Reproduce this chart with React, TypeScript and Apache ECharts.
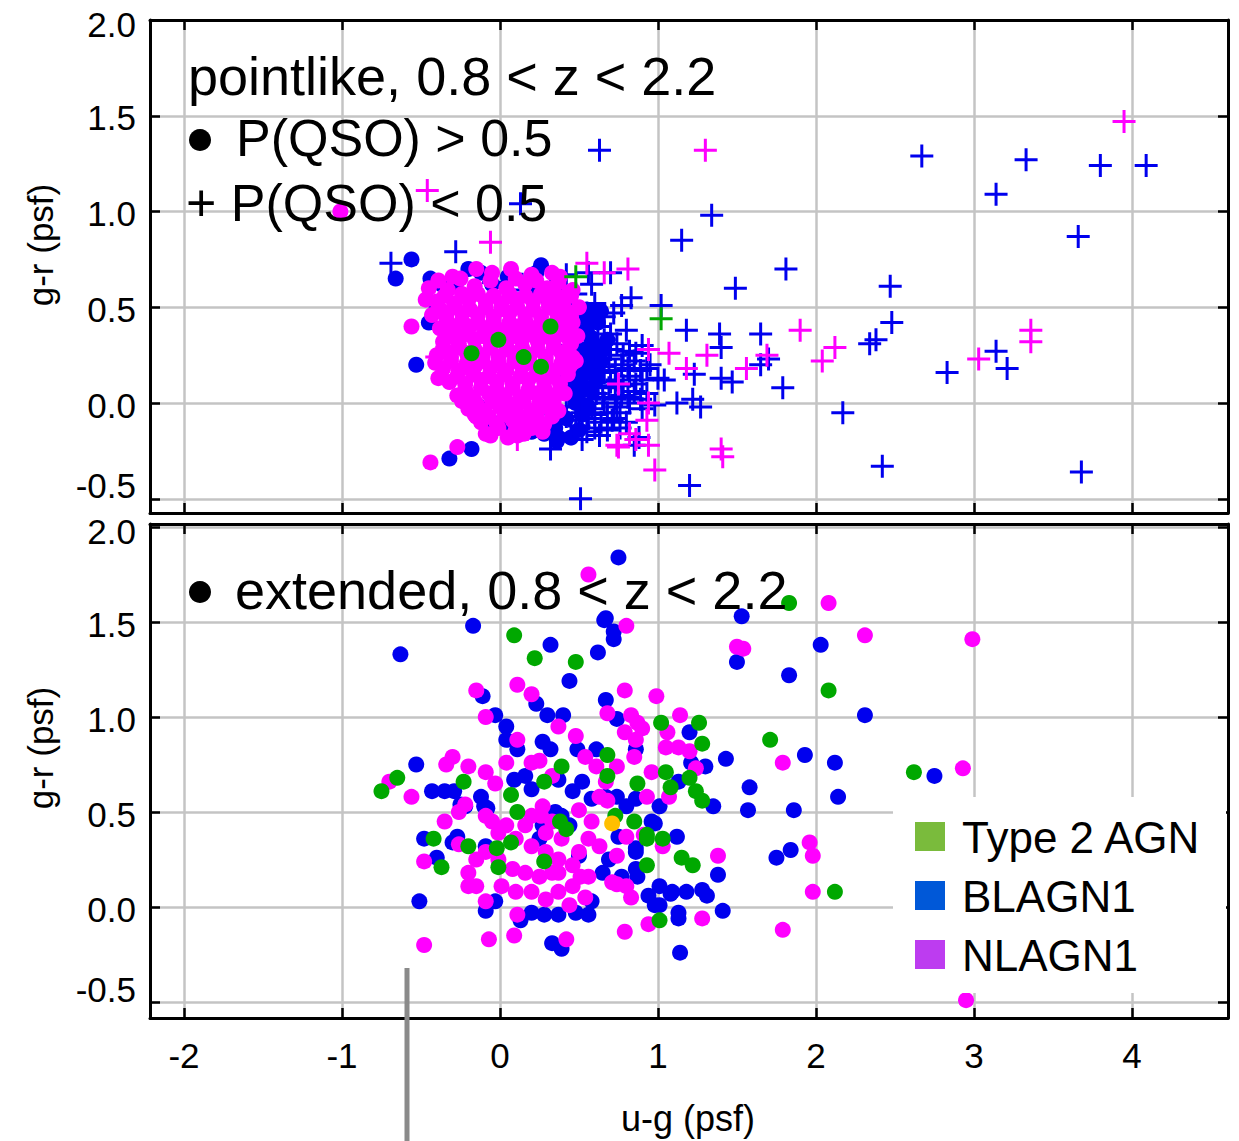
import React, { useEffect, useRef } from 'react';
import * as echarts from 'echarts';

// ---------- axis ranges / labels ----------
const xRange = [-2.215, 4.608];
const yRangeTop = [-0.574, 2.0];
const yRangeBottom = [-0.584, 2.016];
const xAxisTitle = 'u-g (psf)';
const yAxisTitle = 'g-r (psf)';
const topTitle = 'pointlike, 0.8 < z < 2.2';
const topLine2 = 'P(QSO) > 0.5';
const topLine3 = '+ P(QSO) < 0.5';
const bottomTitle = 'extended, 0.8 < z < 2.2';
const legendNames = ['Type 2 AGN', 'BLAGN1', 'NLAGN1'];

// ---------- TOP PANEL (pointlike) ----------
const topBlueCircles = [
  [-0.66, 0.65], [-0.56, 0.75], [-0.44, 0.65], [-0.37, 0.62], [-0.28, 0.62], [-0.2, 0.7], [0.26, 0.72], [0.23, 0.68],
  [0.58, 0.48], [0.64, 0.48], [-0.53, 0.2], [-0.18, -0.24], [-0.32, -0.29], [-0.18, 0.01], [-0.13, -0.02], [-0.45, 0.42],
  [0.4, 0.45], [0.47, 0.4], [0.55, 0.38], [0.62, 0.42], [0.45, 0.32], [0.52, 0.28], [0.6, 0.3], [0.68, 0.33],
  [0.48, 0.2], [0.56, 0.18], [0.64, 0.22], [0.45, 0.1], [0.53, 0.08], [0.61, 0.12], [0.48, 0.0], [0.56, -0.02],
  [0.42, -0.08], [0.5, -0.14], [0.35, -0.13], [0.28, -0.16], [0.2, -0.15], [0.12, -0.13], [0.05, -0.12], [-0.05, -0.1],
  [-0.15, -0.02], [0.36, -0.2], [0.3, 0.55], [0.2, 0.6], [0.05, 0.66], [-0.05, 0.62], [-0.12, 0.68], [0.36, 0.63],
  [0.44, 0.55], [-0.4, 0.5], [-0.35, 0.4], [-0.02, -0.12], [0.11, -0.15], [0.33, -0.05], [0.37, -0.18],
  [0.5, 0.36], [0.58, 0.34], [0.5, 0.24], [0.58, 0.25], [0.52, 0.14], [0.6, 0.16], [0.5, 0.05], [0.58, 0.06],
  [0.52, -0.06], [0.45, -0.18], [0.55, 0.45], [0.66, 0.28]
];
const topMagentaCircles = [
  [-0.45, 0.6], [-0.33, 0.59], [-0.16, 0.61], [0.04, 0.6], [0.16, 0.62], [0.3, 0.6], [0.44, 0.58],
  [-0.4, 0.53], [-0.29, 0.52], [-0.2, 0.54], [-0.09, 0.53], [0.01, 0.52], [0.1, 0.54], [0.21, 0.53], [0.31, 0.52], [0.4, 0.53],
  [-0.43, 0.46], [-0.34, 0.45], [-0.24, 0.47], [-0.14, 0.46], [-0.04, 0.45], [0.06, 0.47], [0.16, 0.46], [0.26, 0.45], [0.36, 0.47], [0.45, 0.45],
  [-0.38, 0.39], [-0.29, 0.38], [-0.19, 0.4], [-0.09, 0.39], [0.01, 0.38], [0.11, 0.4], [0.21, 0.39], [0.31, 0.38], [0.41, 0.39],
  [-0.36, 0.32], [-0.26, 0.31], [-0.16, 0.33], [-0.06, 0.32], [0.04, 0.31], [0.14, 0.33], [0.24, 0.32], [0.34, 0.31], [0.44, 0.33],
  [-0.4, 0.25], [-0.31, 0.24], [-0.21, 0.26], [-0.11, 0.25], [-0.01, 0.24], [0.09, 0.26], [0.19, 0.25], [0.29, 0.24], [0.39, 0.26], [0.46, 0.24],
  [-0.36, 0.18], [-0.26, 0.17], [-0.16, 0.19], [-0.06, 0.18], [0.04, 0.17], [0.14, 0.19], [0.24, 0.18], [0.34, 0.17], [0.44, 0.19],
  [-0.32, 0.11], [-0.22, 0.1], [-0.12, 0.12], [-0.02, 0.11], [0.08, 0.1], [0.18, 0.12], [0.28, 0.11], [0.38, 0.1],
  [-0.27, 0.04], [-0.17, 0.03], [-0.07, 0.05], [0.03, 0.04], [0.13, 0.03], [0.23, 0.05], [0.33, 0.04], [0.41, 0.05],
  [-0.2, -0.03], [-0.1, -0.04], [0.0, -0.02], [0.1, -0.03], [0.2, -0.04], [0.3, -0.02], [0.37, -0.04],
  [-0.12, -0.1], [-0.02, -0.11], [0.08, -0.09], [0.18, -0.1], [0.28, -0.11],
  [-0.06, -0.17], [0.05, -0.18], [0.15, -0.16],
  [-0.39, 0.64], [-0.25, 0.65], [-0.06, 0.64], [0.1, 0.65], [0.23, 0.64], [0.37, 0.63],
  [-0.35, 0.56], [-0.24, 0.57], [-0.14, 0.57], [-0.04, 0.56], [0.06, 0.57], [0.16, 0.56], [0.26, 0.57], [0.36, 0.56], [0.45, 0.56],
  [-0.38, 0.49], [-0.29, 0.5], [-0.19, 0.49], [-0.09, 0.5], [0.01, 0.49], [0.11, 0.5], [0.21, 0.49], [0.31, 0.5], [0.41, 0.49], [0.5, 0.5],
  [-0.33, 0.42], [-0.24, 0.43], [-0.14, 0.42], [-0.04, 0.43], [0.06, 0.42], [0.16, 0.43], [0.26, 0.42], [0.36, 0.43], [0.46, 0.42],
  [-0.31, 0.35], [-0.21, 0.36], [-0.11, 0.35], [-0.01, 0.36], [0.09, 0.35], [0.19, 0.36], [0.29, 0.35], [0.39, 0.36], [0.49, 0.35],
  [-0.35, 0.28], [-0.26, 0.29], [-0.16, 0.28], [-0.06, 0.29], [0.04, 0.28], [0.14, 0.29], [0.24, 0.28], [0.34, 0.29], [0.43, 0.28],
  [-0.41, 0.21], [-0.31, 0.22], [-0.21, 0.21], [-0.11, 0.22], [-0.01, 0.21], [0.09, 0.22], [0.19, 0.21], [0.29, 0.22], [0.39, 0.21], [0.48, 0.22],
  [-0.27, 0.14], [-0.17, 0.15], [-0.07, 0.14], [0.03, 0.15], [0.13, 0.14], [0.23, 0.15], [0.33, 0.14], [0.43, 0.15],
  [-0.22, 0.07], [-0.12, 0.08], [-0.02, 0.07], [0.08, 0.08], [0.18, 0.07], [0.28, 0.08], [0.38, 0.07],
  [-0.24, 0.01], [-0.15, 0.0], [-0.05, 0.01], [0.05, 0.0], [0.15, 0.01], [0.25, 0.0], [0.34, 0.01],
  [-0.16, -0.06], [-0.07, -0.07], [0.03, -0.06], [0.13, -0.07], [0.23, -0.06], [0.33, -0.07],
  [-0.01, -0.13], [0.1, -0.14], [0.2, -0.13], [0.27, -0.15],
  [-0.3, 0.66], [-0.05, 0.68], [0.2, 0.67], [0.38, 0.66],
  [-0.44, -0.31], [-0.27, -0.23], [-0.56, 0.4], [-0.39, 0.13], [-0.47, 0.54], [-0.15, 0.7], [0.07, 0.7], [0.33, 0.68],
  [0.46, 0.59], [0.45, 0.31], [0.46, 0.21], [0.29, 0.02], [0.22, -0.12], [0.11, -0.17], [-0.09, -0.16], [-0.15, -0.07],
  [-1.01, 1.0]
];
const topGreenCircles = [[-0.18, 0.26], [-0.01, 0.33], [0.15, 0.24], [0.26, 0.19], [0.32, 0.4]];
const topBlueCrosses = [
  [0.63, 1.32], [2.67, 1.29], [3.33, 1.27], [3.8, 1.24], [4.09, 1.24], [3.14, 1.09], [1.34, 0.98], [1.15, 0.85],
  [3.66, 0.87], [1.81, 0.7], [1.49, 0.6], [2.47, 0.61], [2.48, 0.42], [2.38, 0.33], [2.34, 0.31], [1.65, 0.36],
  [1.39, 0.36], [1.18, 0.38], [1.02, 0.51], [1.7, 0.23], [1.65, 0.2], [1.79, 0.08], [2.17, -0.05], [2.83, 0.16],
  [3.14, 0.27], [3.21, 0.18], [2.42, -0.33], [3.68, -0.36], [1.2, -0.43], [0.51, -0.5], [0.32, -0.24], [-0.69, 0.73],
  [-0.28, 0.79], [0.13, 1.04], [1.4, 0.29], [1.23, 0.15], [1.4, 0.13], [1.47, 0.11], [1.22, 0.02], [1.12, 0.0],
  [1.27, -0.02], [1.04, 0.12], [0.93, 0.18], [0.8, 0.38], [0.77, 0.51], [0.83, 0.55], [0.72, 0.47], [0.58, 0.62],
  [0.7, 0.68], [0.56, 0.68], [0.42, 0.67], [0.88, -0.18],
  [0.42, 0.3], [0.5, 0.33], [0.58, 0.3], [0.66, 0.33], [0.74, 0.31], [0.82, 0.27], [0.9, 0.3],
  [0.45, 0.22], [0.53, 0.24], [0.61, 0.21], [0.69, 0.23], [0.77, 0.2], [0.85, 0.22], [0.95, 0.2],
  [0.42, 0.14], [0.5, 0.15], [0.58, 0.13], [0.66, 0.16], [0.74, 0.12], [0.82, 0.14], [0.9, 0.12], [1.0, 0.13],
  [0.45, 0.06], [0.53, 0.07], [0.61, 0.05], [0.69, 0.08], [0.77, 0.04], [0.85, 0.06], [0.93, 0.05],
  [0.42, -0.02], [0.5, -0.01], [0.58, -0.03], [0.66, 0.0], [0.74, -0.02], [0.82, 0.0], [0.9, -0.03], [0.98, -0.01],
  [0.48, -0.09], [0.56, -0.08], [0.64, -0.1], [0.72, -0.08], [0.8, -0.1],
  [0.45, -0.16], [0.55, -0.15], [0.63, -0.17], [0.85, -0.22],
  [0.38, 0.6], [0.35, 0.55], [0.48, 0.57], [0.6, 0.52], [0.66, 0.45], [0.55, 0.47], [0.62, 0.4], [0.7, 0.36], [0.5, 0.42],
  [-0.04, 0.63], [0.14, 0.62], [0.16, 0.59], [0.42, -0.07], [0.5, -0.12], [0.71, -0.09],
  [0.46, 0.27], [0.54, 0.28], [0.62, 0.26], [0.7, 0.28], [0.78, 0.25], [0.86, 0.26], [0.49, 0.18], [0.57, 0.17],
  [0.65, 0.19], [0.73, 0.17], [0.81, 0.18], [0.89, 0.17], [0.46, 0.1], [0.54, 0.11], [0.62, 0.09], [0.7, 0.11],
  [0.78, 0.09], [0.86, 0.1], [0.49, 0.02], [0.57, 0.02], [0.65, 0.03], [0.73, 0.02], [0.81, 0.03], [0.89, 0.02],
  [0.52, -0.05], [0.6, -0.06], [0.68, -0.05], [0.76, -0.05], [0.52, -0.19], [0.6, -0.13], [0.68, -0.14], [0.76, -0.13]
];
const topMagentaCrosses = [
  [1.3, 1.32], [3.95, 1.47], [-0.46, 1.11], [-0.06, 0.84], [0.55, 0.73], [0.81, 0.7], [0.66, 0.68], [1.9, 0.38],
  [2.12, 0.29], [2.04, 0.22], [3.36, 0.38], [3.36, 0.32], [3.03, 0.23], [1.69, 0.25], [1.41, -0.28], [0.98, -0.35],
  [0.74, -0.22], [-0.4, 0.24], [0.11, -0.19], [0.86, -0.19], [0.94, 0.28], [1.07, 0.26], [1.31, 0.25], [1.56, 0.18],
  [1.18, 0.18], [0.75, 0.1], [0.94, 0.0], [0.82, -0.16], [0.94, -0.22], [0.75, -0.23], [1.4, -0.24], [0.93, -0.09]
];
const topGreenCrosses = [[0.48, 0.66], [1.02, 0.44]];

// ---------- BOTTOM PANEL (extended) ----------
const bottomBlue = [
  [0.75, 1.84], [-0.17, 1.48], [-0.63, 1.33], [0.32, 1.38], [0.66, 1.51], [0.72, 1.45], [0.72, 1.41], [0.62, 1.34],
  [0.44, 1.19], [1.53, 1.53], [1.5, 1.29], [2.03, 1.38], [2.31, 1.01], [1.83, 1.22], [1.93, 0.8], [2.12, 0.76],
  [2.14, 0.58], [1.86, 0.51], [1.84, 0.3], [1.75, 0.26], [2.75, 0.69], [1.58, 0.63], [1.57, 0.51], [1.43, 0.78],
  [1.35, 0.53], [1.38, 0.17], [1.41, -0.02], [1.14, -0.24], [1.2, 0.92], [1.21, 0.76], [1.3, 0.74], [0.67, 1.09],
  [-0.11, 1.11], [0.23, 1.07], [0.3, 1.01], [0.4, 1.01], [-0.03, 1.01], [0.04, 0.95], [0.04, 0.88], [0.11, 0.83],
  [0.27, 0.87], [0.32, 0.83], [0.49, 0.83], [0.61, 0.83], [0.74, 0.99], [0.86, 0.83], [-0.53, 0.75], [-0.43, 0.61],
  [-0.35, 0.61], [-0.29, 0.61], [-0.25, 0.54], [-0.12, 0.58], [-0.08, 0.52], [0.09, 0.67], [0.16, 0.69], [0.2, 0.62],
  [0.37, 0.67], [0.46, 0.61], [0.52, 0.66], [0.58, 0.57], [0.67, 0.58], [0.74, 0.58], [0.8, 0.53], [0.86, 0.57],
  [1.01, 0.53], [1.13, 0.66], [0.96, 0.45], [0.86, 0.31], [0.75, 0.37], [0.69, 0.25], [0.65, 0.18], [0.77, 0.16],
  [0.86, 0.2], [0.94, 0.06], [1.01, 0.11], [1.09, 0.08], [1.18, 0.08], [1.28, 0.09], [1.31, 0.06], [1.01, 0.01],
  [1.13, -0.03], [1.13, -0.06], [1.12, 0.37], [-0.48, 0.36], [-0.4, 0.26], [-0.51, 0.03], [-0.27, 0.37], [-0.3, 0.34],
  [-0.09, 0.32], [-0.09, -0.02], [-0.03, 0.03], [0.13, -0.07], [0.2, -0.03], [0.28, -0.04], [0.37, -0.04], [0.48, -0.03],
  [0.56, -0.04], [0.58, 0.03], [0.33, -0.19], [0.39, -0.22], [-0.22, 0.53], [-0.1, 0.53], [0.35, 0.5], [0.39, 0.48],
  [0.44, 0.43], [0.5, 0.27], [0.25, 0.36], [0.27, 0.43], [0.98, 0.01], [0.87, 0.16], [0.86, 0.29], [0.98, 0.44],
  [1.08, 0.07], [0.67, 1.52]
];
const bottomMagenta = [
  [0.56, 1.75], [0.8, 1.48], [2.08, 1.6], [1.5, 1.37], [1.54, 1.36], [2.31, 1.43], [2.99, 1.41], [0.79, 1.14],
  [0.99, 1.11], [-0.15, 1.14], [0.11, 1.17], [0.2, 1.12], [0.68, 1.02], [0.83, 1.01], [0.87, 0.97], [0.9, 0.94],
  [0.79, 0.92], [0.86, 0.88], [1.14, 1.01], [1.06, 0.92], [1.05, 0.84], [1.13, 0.84], [1.2, 0.82], [1.24, 0.73],
  [0.85, 0.79], [0.96, 0.71], [0.93, 0.58], [1.07, 0.58], [0.37, 0.95], [0.48, 0.9], [0.54, 0.79], [0.74, 0.74],
  [0.61, 0.74], [0.67, 0.66], [0.63, 0.58], [0.68, 0.56], [0.11, 0.88], [0.2, 0.76], [0.25, 0.77], [0.33, 0.69],
  [0.04, 0.76], [-0.09, 1.0], [-0.3, 0.79], [-0.34, 0.75], [-0.2, 0.74], [-0.09, 0.71], [-0.03, 0.65], [-0.56, 0.58],
  [-0.7, 0.66], [-0.35, 0.45], [-0.26, 0.5], [-0.22, 0.54], [-0.48, 0.24], [-0.26, 0.33], [-0.2, 0.11], [-0.09, 0.03],
  [0.11, -0.04], [0.09, -0.15], [-0.07, -0.17], [-0.48, -0.2], [0.42, -0.17], [0.44, 0.01], [0.54, 0.05], [0.51, 0.16],
  [0.56, 0.16], [0.74, 0.12], [0.83, 0.05], [0.8, 0.11], [0.74, 0.27], [0.8, 0.37], [0.91, 0.38], [1.03, 0.32],
  [1.38, 0.27], [1.28, -0.06], [0.94, -0.09], [0.79, -0.13], [0.5, 0.51], [0.58, 0.45], [0.56, 0.36], [0.63, 0.32],
  [0.5, 0.29], [0.39, 0.36], [0.27, 0.53], [0.2, 0.48], [0.26, 0.48], [0.33, 0.45], [0.29, 0.39], [0.16, 0.43],
  [0.04, 0.43], [-0.05, 0.45], [-0.09, 0.48], [-0.01, 0.39], [0.1, 0.36], [0.2, 0.32], [0.29, 0.29], [0.37, 0.25],
  [0.46, 0.22], [0.33, 0.18], [0.25, 0.16], [0.16, 0.18], [0.08, 0.2], [-0.01, 0.25], [-0.09, 0.29], [-0.15, 0.25],
  [-0.2, 0.18], [-0.15, 0.11], [0.01, 0.11], [0.1, 0.08], [0.2, 0.08], [0.29, 0.04], [0.37, 0.08], [0.46, 0.11],
  [0.37, 0.18], [0.71, 0.13], [1.79, 0.76], [2.93, 0.73], [1.96, 0.34], [1.98, 0.27], [1.98, 0.08], [1.79, -0.12],
  [2.95, -0.49]
];
const bottomGreen = [
  [0.09, 1.43], [0.22, 1.31], [0.48, 1.29], [1.83, 1.6], [2.08, 1.14], [1.71, 0.88], [2.62, 0.71], [2.12, 0.08],
  [1.01, -0.07], [1.02, 0.97], [1.26, 0.97], [1.28, 0.86], [0.68, 0.8], [0.68, 0.69], [0.39, 0.74], [0.28, 0.66],
  [-0.23, 0.66], [-0.65, 0.68], [-0.75, 0.61], [0.07, 0.59], [0.87, 0.65], [1.05, 0.71], [1.08, 0.63], [1.2, 0.68],
  [1.24, 0.61], [1.28, 0.56], [0.38, 0.45], [0.42, 0.41], [0.73, 0.48], [0.85, 0.45], [0.11, 0.5], [0.93, 0.38],
  [0.93, 0.36], [1.03, 0.36], [0.07, 0.34], [-0.02, 0.31], [-0.2, 0.32], [-0.42, 0.36], [-0.37, 0.21], [-0.01, 0.21],
  [0.28, 0.24], [0.93, 0.22], [1.15, 0.26], [1.22, 0.22]
];
const bottomOrange = [[0.71, 0.44]];

const BLUE = '#0000ee';
const MAGENTA = '#ff00ff';
const GREEN = '#00a800';
const ORANGE = '#ffbf00';
const FONT = '"Liberation Sans", Arial, Helvetica, sans-serif';
const PLUS = 'path://M-1.5,-11.5L1.5,-11.5L1.5,-1.5L11.5,-1.5L11.5,1.5L1.5,1.5L1.5,11.5L-1.5,11.5L-1.5,1.5L-11.5,1.5L-11.5,-1.5L-1.5,-1.5Z';

function scatter(name: string, data: number[][], color: string, symbol: string, size: number, axis: number, z: number) {
  return {
    name,
    type: 'scatter',
    xAxisIndex: axis,
    yAxisIndex: axis,
    data,
    symbol,
    symbolSize: size,
    itemStyle: { color, opacity: 1 },
    z,
    silent: true,
  };
}

function xAxisDef(gridIndex: number, position: string, labels: boolean, split: boolean) {
  return {
    type: 'value',
    gridIndex,
    position,
    min: xRange[0],
    max: xRange[1],
    minInterval: 1,
    maxInterval: 1,
    axisLine: { show: true, onZero: false, lineStyle: { color: '#000', width: 3 } },
    axisTick: { show: true, inside: true, length: 10, lineStyle: { color: '#000', width: 2.5 } },
    axisLabel: {
      show: labels,
      margin: 20,
      fontSize: 35,
      fontFamily: FONT,
      color: '#000',
      formatter: (v: number) => (Math.abs(v - Math.round(v)) < 1e-6 ? String(Math.round(v)) : ''),
    },
    splitLine: { show: split, lineStyle: { color: '#c4c4c4', width: 2.5 } },
  };
}

function yAxisDef(gridIndex: number, position: string, labels: boolean, split: boolean, range: number[]) {
  return {
    type: 'value',
    gridIndex,
    position,
    min: range[0],
    max: range[1],
    minInterval: 0.5,
    maxInterval: 0.5,
    axisLine: { show: true, onZero: false, lineStyle: { color: '#000', width: 3 } },
    axisTick: { show: true, inside: true, length: 10, lineStyle: { color: '#000', width: 2.5 } },
    axisLabel: {
      show: labels,
      margin: 14,
      fontSize: 35,
      fontFamily: FONT,
      color: '#000',
      formatter: (v: number) => {
        if (Math.abs(v * 2 - Math.round(v * 2)) > 1e-6) return '';
        const s = v.toFixed(1);
        if (Math.abs(v + 0.5) < 1e-6) return '{lo|' + s + '}';
        if (Math.abs(v - 2) < 1e-6) return '{hi|' + s + '}';
        return '{n|' + s + '}';
      },
      rich: {
        n: { fontSize: 35, fontFamily: FONT, color: '#000', padding: [4, 0, 0, 0] },
        lo: { fontSize: 35, fontFamily: FONT, color: '#000', padding: [0, 0, 26, 0] },
        hi: { fontSize: 35, fontFamily: FONT, color: '#000', padding: [8, 0, 0, 0] },
      },
    },
    splitLine: { show: split, lineStyle: { color: '#c4c4c4', width: 2.5 } },
  };
}

export default function App() {
  const ref = useRef<HTMLDivElement>(null);
  useEffect(() => {
    if (!ref.current) return;
    const chart = echarts.init(ref.current, null, { renderer: 'svg' });
    const legendColors = ['#7abb3c', '#0058d8', '#bd3cf0'];
    const legendRows = [837, 896, 955];
    const option: any = {
      animation: false,
      backgroundColor: '#ffffff',
      grid: [
        { left: 150, top: 20, width: 1078, height: 493 },
        { left: 150, top: 524, width: 1078, height: 494 },
      ],
      xAxis: [
        xAxisDef(0, 'bottom', false, true),
        xAxisDef(0, 'top', false, false),
        xAxisDef(1, 'bottom', true, true),
        xAxisDef(1, 'top', false, false),
      ],
      yAxis: [
        yAxisDef(0, 'left', true, true, yRangeTop),
        yAxisDef(0, 'right', false, false, yRangeTop),
        yAxisDef(1, 'left', true, true, yRangeBottom),
        yAxisDef(1, 'right', false, false, yRangeBottom),
      ],
      series: [
        scatter('BLAGN1 P>0.5', topBlueCircles, BLUE, 'circle', 16, 0, 2),
        scatter('BLAGN1 P<0.5', topBlueCrosses, BLUE, PLUS, 23, 0, 3),
        scatter('NLAGN1 P>0.5', topMagentaCircles, MAGENTA, 'circle', 16, 0, 4),
        scatter('NLAGN1 P<0.5', topMagentaCrosses, MAGENTA, PLUS, 23, 0, 5),
        scatter('Type 2 P>0.5', topGreenCircles, GREEN, 'circle', 16, 0, 6),
        scatter('Type 2 P<0.5', topGreenCrosses, GREEN, PLUS, 23, 0, 7),
        scatter('BLAGN1 ext', bottomBlue, BLUE, 'circle', 16, 2, 2),
        scatter('NLAGN1 ext', bottomMagenta, MAGENTA, 'circle', 16, 2, 3),
        scatter('Type 2 ext', bottomGreen, GREEN, 'circle', 16, 2, 4),
        scatter('other ext', bottomOrange, ORANGE, 'circle', 16, 2, 5),
      ],
      graphic: [
        { type: 'text', z: 100, x: 188, y: 76, style: { text: topTitle, fontSize: 54, fontFamily: FONT, fill: '#000', align: 'left', verticalAlign: 'middle' } },
        { type: 'circle', z: 100, shape: { cx: 200, cy: 140, r: 11 }, style: { fill: '#000' } },
        { type: 'text', z: 100, x: 236, y: 138, style: { text: topLine2, fontSize: 52, fontFamily: FONT, fill: '#000', align: 'left', verticalAlign: 'middle' } },
        { type: 'text', z: 100, x: 186, y: 203, style: { text: topLine3, fontSize: 52, fontFamily: FONT, fill: '#000', align: 'left', verticalAlign: 'middle' } },
        { type: 'circle', z: 100, shape: { cx: 200, cy: 592, r: 11 }, style: { fill: '#000' } },
        { type: 'text', z: 100, x: 235, y: 590, style: { text: bottomTitle, fontSize: 54, fontFamily: FONT, fill: '#000', align: 'left', verticalAlign: 'middle' } },
        { type: 'rect', z: 90, shape: { x: 893, y: 797, width: 333, height: 196 }, style: { fill: '#ffffff' } },
        ...legendNames.flatMap((name, i) => [
          { type: 'rect', z: 100, shape: { x: 915, y: legendRows[i] - 15, width: 30, height: 29 }, style: { fill: legendColors[i] } },
          { type: 'text', z: 100, x: 962, y: legendRows[i], style: { text: name, fontSize: 44, fontFamily: FONT, fill: '#000', align: 'left', verticalAlign: 'middle' } },
        ]),
        { type: 'text', z: 100, x: 40, y: 245, rotation: Math.PI / 2, style: { text: yAxisTitle, fontSize: 35, fontFamily: FONT, fill: '#000', align: 'center', verticalAlign: 'middle' } },
        { type: 'text', z: 100, x: 40, y: 748, rotation: Math.PI / 2, style: { text: yAxisTitle, fontSize: 35, fontFamily: FONT, fill: '#000', align: 'center', verticalAlign: 'middle' } },
        { type: 'text', z: 100, x: 688, y: 1118, style: { text: xAxisTitle, fontSize: 36, fontFamily: FONT, fill: '#000', align: 'center', verticalAlign: 'middle' } },
        { type: 'line', z: 110, shape: { x1: 407, y1: 968, x2: 407, y2: 1141 }, style: { stroke: '#8a8a8a', lineWidth: 5 } },
      ],
    };
    chart.setOption(option);
    return () => chart.dispose();
  }, []);
  return <div ref={ref} style={{ position: 'absolute', left: 0, top: 0, width: 1239, height: 1141 }} />;
}
